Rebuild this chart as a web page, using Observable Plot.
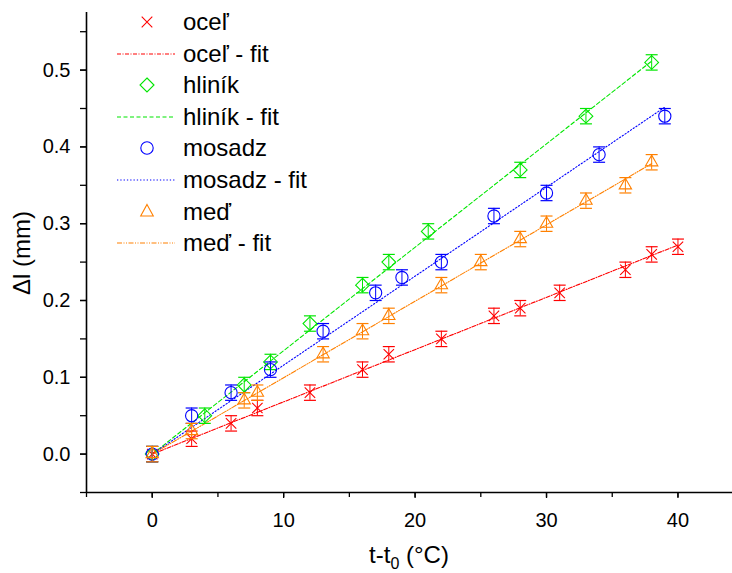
<!DOCTYPE html>
<html><head><meta charset="utf-8">
<script src="https://cdn.jsdelivr.net/npm/d3@7"></script>
<script src="https://cdn.jsdelivr.net/npm/@observablehq/plot@0.6"></script>
<style>
body{margin:0;background:#fff;font-family:"Liberation Sans",Arial,sans-serif;}
#wrap{position:relative;width:732px;height:573px;overflow:hidden;}
.leg{position:absolute;left:0;top:0;}
.row{position:absolute;left:112px;height:30px;display:flex;align-items:center;font-size:24px;color:#000;white-space:nowrap;}
.row svg{width:70px;height:30px;flex:none;}
.row span{margin-left:1px;white-space:nowrap;line-height:30px;}
#xt{position:absolute;top:541px;left:0;width:732px;text-align:center;font-size:24px;line-height:28px;padding-left:86px;box-sizing:border-box;color:#000;}
#yt{position:absolute;left:22px;top:253px;font-size:24px;transform:translate(-50%,-50%) rotate(-90deg);white-space:nowrap;color:#000;}
</style></head>
<body><div id="wrap"></div>
<script>
// data
const ocelX = [0,3,6,8,12,16,18,22,26,28,31,36,38,40];
const ocelY = [0,0.02,0.04,0.06,0.08,0.11,0.13,0.15,0.18,0.19,0.21,0.24,0.26,0.27];
const hlinikX = [0,4,7,9,12,16,18,21,28,33,38];
const hlinikY = [0,0.05,0.09,0.12,0.17,0.22,0.25,0.29,0.37,0.44,0.51];
const mosadzX = [0,3,6,9,13,17,19,22,26,30,34,39];
const mosadzY = [0,0.05,0.08,0.11,0.16,0.21,0.23,0.25,0.31,0.34,0.39,0.44];
const medX = [0,3,7,8,13,16,18,22,25,28,30,33,36,38];
const medY = [0,0.03,0.07,0.08,0.13,0.16,0.18,0.22,0.25,0.28,0.30,0.33,0.35,0.38];
const errorY = 0.01;
const seriesNames = ["oceľ","hliník","mosadz","meď"];
const xTicks = [0,10,20,30,40];
const yTicks = [0,0.1,0.2,0.3,0.4,0.5];

const styles = {
  "oceľ":   {color:"#ff0000", symbol:"times",    r:4.8, dash:"4,1.5,1,1.5"},
  "hliník": {color:"#00e600", symbol:"diamond2", r:6.2, dash:"4,2.5"},
  "mosadz": {color:"#0000ff", symbol:"circle",   r:6.1, dash:"1.3,2"},
  "meď":    {color:"#ff8000", symbol:"triangle2",r:5.9, dash:"5,1.5,1,1.5,1,1.5"}
};
const xs = [ocelX, hlinikX, mosadzX, medX];
const ys = [ocelY, hlinikY, mosadzY, medY];
const series = seriesNames.map((name,i)=>({name, data: xs[i].map((x,j)=>({x, y: ys[i][j], name}))}));

// least-squares fit through the origin, computed from the data
function fitLine(s) {
  const sxy = d3.sum(s.data, d => d.x * d.y), sxx = d3.sum(s.data, d => d.x * d.x);
  const k = sxy / sxx;
  const [x0, x1] = d3.extent(s.data, d => d.x);
  return [{x: x0, y: k * x0}, {x: x1, y: k * x1}];
}

const cap = {draw(ctx, size){ const w = 6; ctx.moveTo(-w,0); ctx.lineTo(w,0); }};

const marks = [];
for (const s of series) {
  const st = styles[s.name];
  marks.push(Plot.line(fitLine(s), {x:"x", y:"y", stroke: st.color, strokeWidth:1.1, strokeDasharray: st.dash}));
}
for (const s of series) {
  const st = styles[s.name];
  marks.push(Plot.ruleX(s.data, {x:"x", y1: d=>d.y-errorY, y2: d=>d.y+errorY, stroke: st.color, strokeWidth:1}));
  marks.push(Plot.dot(s.data, {x:"x", y: d=>d.y+errorY, symbol: ()=>cap, stroke: st.color, strokeWidth:1.2}));
  marks.push(Plot.dot(s.data, {x:"x", y: d=>d.y-errorY, symbol: ()=>cap, stroke: st.color, strokeWidth:1.2}));
  marks.push(Plot.dot(s.data, {x:"x", y:"y", symbol: st.symbol, r: st.r, stroke: st.color, strokeWidth:1.1, fill:"none"}));
}

const chart = Plot.plot({
  width: 732, height: 573,
  marginLeft: 86, marginRight: 0, marginTop: 12, marginBottom: 81,
  style: {fontFamily: '"Liberation Sans", Arial, sans-serif', fontSize: "20px", color:"#000", background:"#fff"},
  x: {domain: [-5, 44.15], label: null},
  y: {domain: [-0.05, 0.575], label: null},
  symbol: {type:"identity"},
  marks: [
    Plot.axisX({ticks: d3.range(-5, 45, 5), tickSize: 5, text: null, label: null, strokeWidth:1.3}),
    Plot.axisX({ticks: xTicks, tickSize: 6, tickPadding: 14, tickFormat: d3.format("d"), label: null, fontSize: 20, strokeWidth:1.3}),
    Plot.axisY({ticks: d3.range(-0.05, 0.6, 0.05).map(v=>+v.toFixed(2)), tickSize: 6, text: null, label: null, strokeWidth:1.3}),
    Plot.axisY({ticks: yTicks, tickSize: 6, tickPadding: 10, tickFormat: d3.format(".1f"), label: null, fontSize: 20, strokeWidth:1.3}),
    Plot.ruleX([-5], {stroke:"#000", strokeWidth:1.6}),
    Plot.ruleY([-0.05], {stroke:"#000", strokeWidth:1.6}),
    ...marks
  ]
});
const wrap = document.getElementById("wrap");
wrap.appendChild(chart);

// legend
const leg = document.createElement("div"); leg.className = "leg";
const symPaths = {
  "times": 'M-5.3,-5.3L5.3,5.3M5.3,-5.3L-5.3,5.3',
  "diamond2": 'M0,-7L7,0L0,7L-7,0Z',
  "circle": 'M6.2,0A6.2,6.2 0 1 1 -6.2,0A6.2,6.2 0 1 1 6.2,0',
  "triangle2": 'M0,-7.5L6.3,4L-6.3,4Z'
};
let k = 0;
for (const name of seriesNames) {
  const st = styles[name];
  for (const fit of [false, true]) {
    const row = document.createElement("div"); row.className = "row";
    row.style.top = (22 + 31.6 * k - 15) + "px"; k++;
    const svgNS = "http://www.w3.org/2000/svg";
    const svg = document.createElementNS(svgNS, "svg");
    if (!fit) {
      const p = document.createElementNS(svgNS, "path");
      p.setAttribute("d", symPaths[st.symbol]); p.setAttribute("transform","translate(35,15)");
      p.setAttribute("fill","none"); p.setAttribute("stroke", st.color); p.setAttribute("stroke-width","1.1");
      svg.appendChild(p);
    } else {
      const l = document.createElementNS(svgNS, "line");
      l.setAttribute("x1",5); l.setAttribute("x2",63); l.setAttribute("y1",15); l.setAttribute("y2",15);
      l.setAttribute("stroke", st.color); l.setAttribute("stroke-width","1.1"); l.setAttribute("stroke-dasharray", st.dash);
      svg.appendChild(l);
    }
    row.appendChild(svg);
    const t = document.createElement("span"); t.textContent = fit ? name + " - fit" : name;
    row.appendChild(t);
    leg.appendChild(row);
  }
}
wrap.appendChild(leg);
const xt = document.createElement("div"); xt.id = "xt"; xt.innerHTML = "t-t<sub style='font-size:16px;line-height:0'>0</sub> (°C)";
wrap.appendChild(xt);
const yt = document.createElement("div"); yt.id = "yt"; yt.textContent = "Δl (mm)";
wrap.appendChild(yt);
</script></body></html>
